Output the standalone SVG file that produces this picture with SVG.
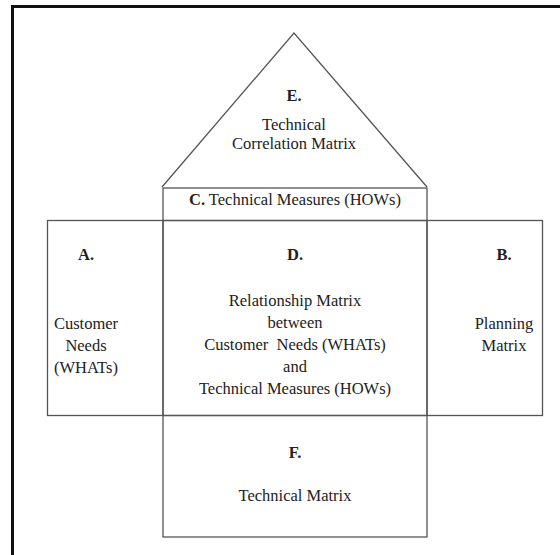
<svg xmlns="http://www.w3.org/2000/svg" width="560" height="555" viewBox="0 0 560 555">
<style>
.box{fill:none;stroke:#555;stroke-width:1.3}
.frame{fill:none;stroke:#111;stroke-width:3}
text{font-family:"Liberation Serif","Times New Roman",serif;font-size:16.5px;fill:#222;text-anchor:middle}
.b{font-weight:bold}
</style>
<rect width="560" height="555" fill="#fff"/>
<path class="frame" d="M12.5 560 V6.5 H560"/>
<g id="E">
<polyline class="box" points="162,187 294,33 427,187"/>
<text class="b" x="294" y="101">E.</text>
<text x="294" y="130">Technical</text>
<text x="294" y="149">Correlation Matrix</text>
</g>
<g id="C">
<rect class="box" x="163" y="188" width="264" height="32.5"/>
<text x="295" y="205"><tspan class="b">C.</tspan> Technical Measures (HOWs)</text>
</g>
<g id="A">
<rect class="box" x="47.5" y="220.5" width="115.5" height="195"/>
<text class="b" x="86" y="260">A.</text>
<text x="86" y="329">Customer</text>
<text x="86" y="351">Needs</text>
<text x="86" y="373">(WHATs)</text>
</g>
<g id="D">
<rect class="box" x="163" y="220.5" width="264" height="195"/>
<text class="b" x="295" y="260">D.</text>
<text x="295" y="306">Relationship Matrix</text>
<text x="295" y="328">between</text>
<text x="295" y="350" xml:space="preserve">Customer  Needs (WHATs)</text>
<text x="295" y="372">and</text>
<text x="295" y="394">Technical Measures (HOWs)</text>
</g>
<g id="B">
<rect class="box" x="427" y="220.5" width="115.5" height="195"/>
<text class="b" x="504" y="260">B.</text>
<text x="504" y="329">Planning</text>
<text x="504" y="351">Matrix</text>
</g>
<g id="F">
<rect class="box" x="163" y="415.5" width="264" height="121.5"/>
<text class="b" x="295" y="458">F.</text>
<text x="295" y="501">Technical Matrix</text>
</g>
<g id="connectors"/>
</svg>
